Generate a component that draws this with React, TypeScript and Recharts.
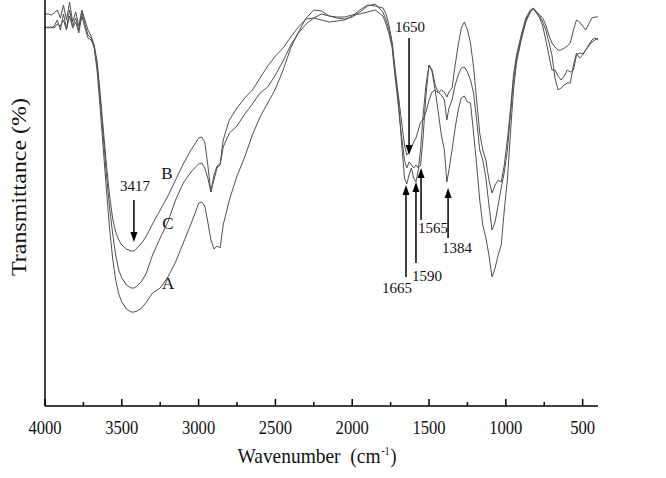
import React from "react";
import {
  LineChart,
  Line,
  XAxis,
  YAxis,
  ReferenceLine,
  ReferenceDot,
} from "recharts";

// wavenumber grid (cm-1) shared by the three spectra
const wavenumbers = [
  4000, 3980, 3960, 3940, 3920, 3900, 3880, 3860, 3840, 3820, 3800, 3780, 3760, 3740, 3720, 3700,
  3680, 3660, 3640, 3620, 3600, 3580, 3560, 3540, 3520, 3500, 3470, 3440, 3420, 3400, 3370, 3340,
  3300, 3250, 3200, 3150, 3100, 3050, 3020, 3000, 2980, 2960, 2940, 2920, 2900, 2880, 2860, 2840,
  2800, 2750, 2700, 2650, 2600, 2550, 2500, 2450, 2400, 2350, 2300, 2250, 2200, 2150, 2100, 2050,
  2000, 1950, 1900, 1850, 1800, 1780, 1760, 1740, 1720, 1700, 1680, 1660, 1645, 1630, 1615, 1600,
  1585, 1570, 1555, 1540, 1520, 1500, 1480, 1460, 1440, 1420, 1400, 1384, 1370, 1350, 1330, 1310,
  1290, 1270, 1250, 1230, 1210, 1190, 1170, 1150, 1130, 1110, 1090, 1070, 1050, 1030, 1010, 990,
  970, 950, 930, 900, 870, 840, 820, 800, 780, 760, 740, 720, 700, 680, 660, 640,
  620, 600, 580, 560, 540, 520, 500, 480, 460, 440, 420, 400,
];

// transmittance, arbitrary units (no scale printed on the figure)
const seriesA = [
  378, 379, 378, 380, 386, 376, 392, 378, 396, 380, 388, 376, 394, 382, 371, 368,
  358, 334, 296, 256, 216, 178, 148, 126, 112, 104, 97, 94, 94, 95, 98, 104,
  113, 118, 129, 144, 163, 182, 194, 203, 204, 200, 184, 166, 157, 160, 158, 181,
  206, 230, 249, 271, 289, 303, 317, 336, 358, 374, 388, 396, 395, 390, 388, 387,
  389, 394, 400, 402, 394, 386, 376, 361, 331, 306, 266, 228, 222, 231, 238, 228,
  224, 236, 256, 288, 321, 341, 334, 316, 294, 271, 256, 224, 236, 256, 278, 296,
  308, 310, 304, 303, 273, 241, 206, 181, 168, 151, 129, 138, 151, 161, 196, 226,
  273, 316, 344, 366, 384, 394, 397, 394, 390, 384, 376, 364, 351, 328, 316, 318,
  321, 323, 323, 341, 353, 348, 351, 356, 361, 366, 368, 366,
];

const seriesB = [
  392, 392, 391, 393, 396, 388, 401, 386, 404, 384, 394, 380, 396, 386, 376, 370,
  361, 344, 311, 276, 241, 211, 188, 174, 166, 161, 157, 155, 155, 158, 163, 170,
  182, 196, 210, 226, 242, 256, 263, 268, 269, 264, 241, 214, 231, 240, 242, 266,
  286, 298, 308, 316, 328, 340, 350, 358, 369, 379, 387, 388, 386, 384, 385, 386,
  390, 396, 401, 400, 398, 392, 380, 364, 336, 311, 286, 261, 251, 254, 258, 264,
  268, 276, 284, 286, 294, 306, 314, 316, 313, 316, 314, 309, 314, 318, 341, 361,
  378, 384, 376, 363, 339, 306, 273, 256, 246, 226, 213, 221, 226, 224, 241, 266,
  296, 331, 351, 371, 388, 396, 398, 394, 391, 388, 381, 371, 363, 359, 356, 356,
  358, 360, 363, 376, 386, 384, 380, 376, 382, 388, 389, 389,
];

const seriesC = [
  379, 378, 379, 378, 382, 380, 386, 376, 390, 378, 384, 373, 390, 378, 368, 366,
  360, 340, 306, 268, 231, 199, 173, 151, 136, 128, 121, 118, 118, 120, 125, 133,
  151, 168, 184, 206, 223, 234, 239, 242, 243, 238, 228, 214, 226, 238, 241, 259,
  273, 280, 292, 302, 313, 319, 331, 345, 361, 373, 382, 388, 392, 390, 389, 389,
  391, 392, 394, 396, 390, 382, 372, 358, 328, 301, 271, 246, 238, 244, 241, 238,
  241, 238, 241, 266, 311, 341, 336, 321, 314, 311, 306, 286, 298, 306, 321, 331,
  338, 339, 334, 326, 313, 286, 256, 246, 228, 201, 176, 184, 201, 218, 234, 256,
  291, 326, 348, 368, 386, 395, 397, 393, 388, 380, 366, 351, 336, 336, 330, 326,
  330, 336, 334, 336, 351, 353, 352, 356, 360, 364, 366, 368,
];

const majorTicks = [4000, 3500, 3000, 2500, 2000, 1500, 1000, 500];
const minorTicks = [3750, 3250, 2750, 2250, 1750, 1250, 750];

// band annotations: label, arrow position, arrow tail/tip, label position
const peakLabels = ["3417", "1650", "1665", "1590", "1565", "1384"];
const arrowAt = [3421, 1630, 1650, 1585, 1552, 1376];
const arrowFrom = [206, 368, 129, 143, 186, 168];
const arrowTo = [164, 251, 221, 224, 238, 218];
const peakLabelX = [3414, 1624, 1708, 1513, 1474, 1318];
const peakLabelY = [215, 374, 113, 125, 173, 153];

const curveNames = ["B", "C", "A"];
const curveNameX = [3206, 3199, 3199];
const curveNameY = [227, 177, 117];

const data = wavenumbers.map((w, i) => ({
  w,
  A: seriesA[i],
  B: seriesB[i],
  C: seriesC[i],
}));

const serif = "'Liberation Serif', 'Times New Roman', serif";

function AxisTick(props: any) {
  const { x, y, payload } = props;
  const major = payload.value % 500 === 0;
  const label = String(payload.value);
  return (
    <g>
      <line x1={x} y1={y} x2={x} y2={y - (major ? 7 : 4)} stroke="#000" strokeWidth={1.5} />
      {major && (
        <text
          x={x}
          y={y + 28}
          textAnchor="middle"
          fontFamily={serif}
          fontSize={18}
          fill="#111"
          textLength={label.length * 8.3}
          lengthAdjust="spacingAndGlyphs"
        >
          {label}
        </text>
      )}
    </g>
  );
}

function XLabel(props: any) {
  const { x, y, width } = props.viewBox;
  const cx = x + width / 2 - 2;
  const base = y + 57;
  const common = { fontFamily: serif, fill: "#111", lengthAdjust: "spacingAndGlyphs" } as any;
  return (
    <g>
      <text {...common} x={cx + 61} y={base} textAnchor="end" fontSize={22}
        textLength={143} style={{ whiteSpace: "pre" }}>
        Wavenumber  (cm
      </text>
      <text {...common} x={cx + 62} y={base - 8} fontSize={13} textLength={8}>
        -1
      </text>
      <text {...common} x={cx + 71} y={base} fontSize={22} textLength={6}>
        )
      </text>
    </g>
  );
}

function YLabel() {
  return (
    <text
      x={26}
      y={187}
      transform="rotate(-90, 26, 187)"
      textAnchor="middle"
      fontFamily={serif}
      fontSize={22}
      fill="#111"
      textLength={178}
      lengthAdjust="spacingAndGlyphs"
    >
      Transmittance (%)
    </text>
  );
}

function Arrow(props: any) {
  const { x1, y1, x2, y2 } = props;
  const dir = y2 > y1 ? 1 : -1;
  const head = 10;
  return (
    <g>
      <line x1={x1} y1={y1} x2={x2} y2={y2 - dir * head} stroke="#000" strokeWidth={1.5} />
      <polygon
        points={`${x2 - 3.5},${y2 - dir * head} ${x2 + 3.5},${y2 - dir * head} ${x2},${y2}`}
        fill="#000"
      />
    </g>
  );
}

const textAt = (label: string, size: number) => (p: any) => (
  <text
    x={p.cx}
    y={p.cy}
    textAnchor="middle"
    fontFamily={serif}
    fontSize={size}
    fill="#111"
  >
    {label}
  </text>
);

export default function App() {
  return (
    <div style={{ position: "absolute", left: 0, top: 0, background: "#fff" }}>
      <LineChart
        width={666}
        height={478}
        data={data}
        margin={{ top: 0, right: 68, bottom: 0, left: 0 }}
      >
        <XAxis
          dataKey="w"
          type="number"
          domain={[400, 4000]}
          reversed
          ticks={[...majorTicks, ...minorTicks]}
          interval={0}
          tickSize={0}
          tickMargin={0}
          height={72}
          axisLine={{ stroke: "#000", strokeWidth: 1.5 }}
          tickLine={false}
          tick={<AxisTick />}
          label={<XLabel />}
        />
        <YAxis
          type="number"
          domain={[0, 406]}
          width={45}
          tick={false}
          tickLine={false}
          axisLine={{ stroke: "#000", strokeWidth: 1.5 }}
          label={<YLabel />}
        />
        <Line type="linear" dataKey="A" stroke="#505050" strokeWidth={1} dot={false} isAnimationActive={false} />
        <Line type="linear" dataKey="B" stroke="#505050" strokeWidth={1} dot={false} isAnimationActive={false} />
        <Line type="linear" dataKey="C" stroke="#505050" strokeWidth={1} dot={false} isAnimationActive={false} />
        {peakLabels.map((lab, i) => (
          <ReferenceLine
            key={"arrow" + lab}
            segment={[
              { x: arrowAt[i], y: arrowFrom[i] },
              { x: arrowAt[i], y: arrowTo[i] },
            ]}
            shape={Arrow}
          />
        ))}
        {peakLabels.map((lab, i) => (
          <ReferenceDot
            key={"lab" + lab}
            x={peakLabelX[i]}
            y={peakLabelY[i]}
            r={0}
            shape={textAt(lab, 15)}
          />
        ))}
        {curveNames.map((name, i) => (
          <ReferenceDot
            key={"name" + name}
            x={curveNameX[i]}
            y={curveNameY[i]}
            r={0}
            shape={textAt(name, 17)}
          />
        ))}
      </LineChart>
    </div>
  );
}
